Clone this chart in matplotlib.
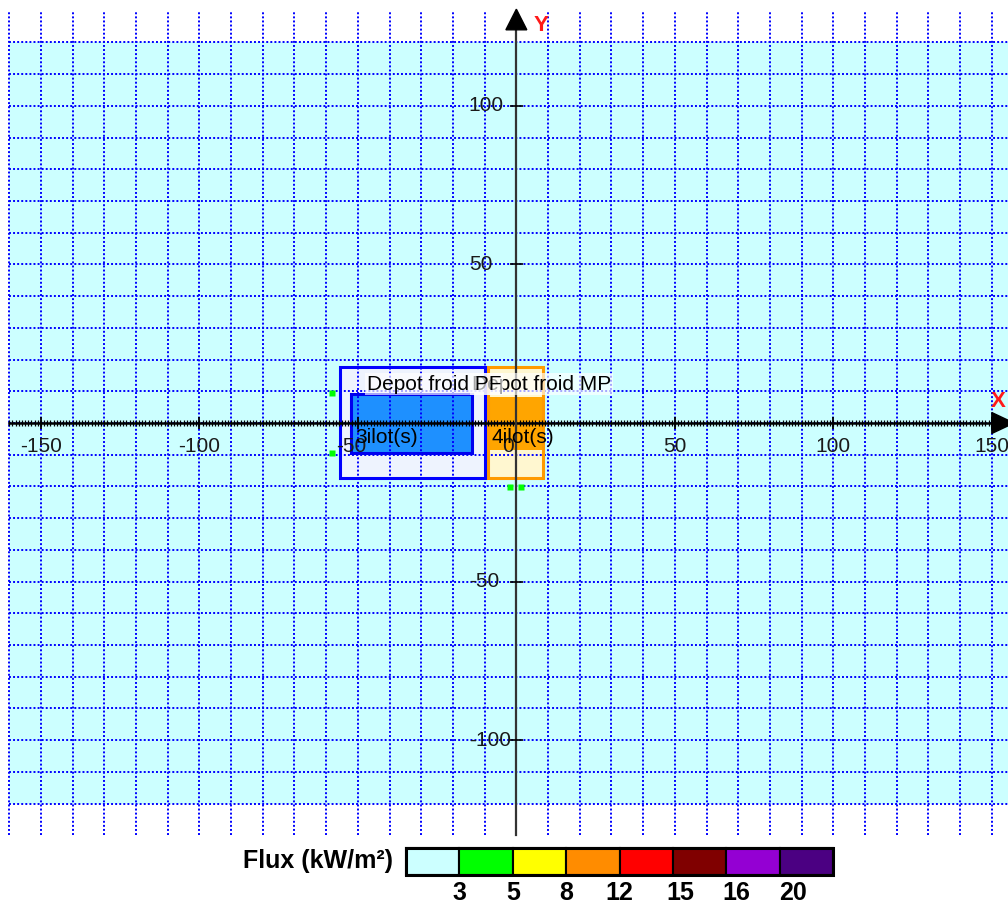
import numpy as np
import matplotlib.pyplot as plt
from matplotlib.patches import Rectangle, Polygon

plt.rcParams['font.family'] = ['Liberation Sans', 'DejaVu Sans']

# zones (x0, x1, y0, y1) in metres
zone_names = ['Depot froid MP', 'Depot froid PF']
zone_outer = [(-9.0, 8.4, -17.2, 17.7), (-55.5, -9.9, -17.2, 17.7)]
zone_inner = [(-9.0, 8.4, -8.6, 8.3), (-52.3, -14.0, -9.6, 9.3)]
zone_ilots = [4, 3]
zone_label_xy = [(-14.0, 12.3), (-47.1, 12.3)]
ilot_label_xy = [(-7.7, -4.5), (-50.9, -4.5)]

# small green points
pts_x = [-58.3, -58.2, -2.0, 1.45]
pts_y = [9.6, -9.5, -20.1, -20.1]

# axis tick labels
xtick_vals = [-150, -100, -50, 0, 50, 100, 150]
ytick_vals = [100, 50, -50, -100]

# flux legend
flux_colors = ['#CCFFFF', '#00FF00', '#FFFF00', '#FF8C00', '#FF0000',
               '#800000', '#9400D3', '#4B0082']
flux_thresholds = [3, 5, 8, 12, 15, 16, 20]

W, H = 1008, 905
fig = plt.figure(figsize=(W / 100, H / 100), dpi=100)
ax = fig.add_axes([0, 0, 1, 1])
ax.set_xlim(-162.9, 155.1)
ax.set_ylim(-152.0, 133.4)
ax.axis('off')

# background + grid
ax.add_patch(Rectangle((-160, -120), 330, 240, color='#CCFFFF', lw=0, zorder=0))
grid_kw = dict(color='#0000FF', lw=1.4, ls=(0, (1, 1.1)), zorder=2)
for gx in np.arange(-160, 160, 10):
    ax.plot([gx, gx], [-130, 130], **grid_kw)
for gy in np.arange(-120, 121, 10):
    ax.plot([-160, 170], [gy, gy], **grid_kw)

# zones
outer_fc = ['#FFF7D0', '#EEF3FE']
outer_ec = ['#FF9A00', '#0000FF']
inner_fc = ['#FFA500', '#1E90FF']
inner_ec = ['none', '#0000EE']
for i in range(len(zone_names)):
    x0, x1, y0, y1 = zone_outer[i]
    ax.add_patch(Rectangle((x0, y0), x1 - x0, y1 - y0, fc=outer_fc[i], ec='none', zorder=1))
    ax.add_patch(Rectangle((x0, y0), x1 - x0, y1 - y0, fill=False, ec=outer_ec[i], lw=2.2, zorder=3))
    x0, x1, y0, y1 = zone_inner[i]
    ax.add_patch(Rectangle((x0, y0), x1 - x0, y1 - y0, fc=inner_fc[i], ec='none', zorder=1.5))
    if inner_ec[i] != 'none':
        ax.add_patch(Rectangle((x0, y0), x1 - x0, y1 - y0, fill=False, ec=inner_ec[i], lw=2.2, zorder=3))

# axes
ax.plot([-160, 151], [0, 0], color='black', lw=1.8, zorder=4)
ax.vlines(np.arange(-160, 151, 1), -1.1, 1.1, color='black', lw=0.9, zorder=4)
ax.vlines(np.arange(-150, 151, 50), -2.0, 2.0, color='black', lw=1.3, zorder=4)
ax.plot([0, 0], [-130, 124], color='#333333', lw=1.6, zorder=4)
ax.hlines(ytick_vals, -2.0, 2.0, color='black', lw=1.2, zorder=4)
ax.add_patch(Polygon([[150, -3.3], [157, 0], [150, 3.3]], closed=True, color='black', zorder=5))
ax.add_patch(Polygon([[-3.3, 124], [0, 130.5], [3.3, 124]], closed=True, color='black', zorder=5))
ax.text(7.8, 125.5, 'Y', color='#FF1A1A', fontsize=16, fontweight='bold', ha='center', va='center', zorder=6)
ax.text(151.9, 6.9, 'X', color='#FF1A1A', fontsize=16, fontweight='bold', ha='center', va='center', zorder=6)

x_shift = {-50: -2.0, 0: -2.5}
for v in xtick_vals:
    ax.text(v + x_shift.get(v, 0), -7.4, '%d' % v, fontsize=15, color='#1a1a1a',
            ha='center', va='center', zorder=6)
for v in ytick_vals:
    ax.text(-15, v, '%d' % v, fontsize=15, color='#1a1a1a', ha='left', va='center', zorder=6)

# labels
for i in range(len(zone_names)):
    lx, ly = zone_label_xy[i]
    ax.text(lx, ly, zone_names[i], fontsize=15, ha='left', va='center', zorder=7 + i,
            bbox=dict(boxstyle='square,pad=0.08', fc='white', ec='none', alpha=0.65))
    ix, iy = ilot_label_xy[i]
    ax.text(ix, iy, '%dilot(s)' % zone_ilots[i], fontsize=15, ha='left', va='center', zorder=6)

ax.plot(pts_x, pts_y, 's', color='#00FF00', ms=4.5, mec='none', zorder=6)

# flux legend
cax = fig.add_axes([406 / W, (H - 875) / H, (833.3 - 406) / W, (875 - 847.7) / H])
cax.set_xlim(0, len(flux_colors))
cax.set_ylim(0, 1)
cax.axis('off')
for i, c in enumerate(flux_colors):
    cax.add_patch(Rectangle((i, 0), 1, 1, fc=c, ec='black', lw=1.5, clip_on=False))
cax.add_patch(Rectangle((0, 0), len(flux_colors), 1, fill=False, ec='black', lw=2.2, clip_on=False))
label_pos = [1, 2, 3, 4, 5.14, 6.19, 7.25]
for p, t in zip(label_pos, flux_thresholds):
    cax.text(p, -0.66, str(t), fontsize=18, fontweight='bold', ha='center', va='center')
fig.text(393 / W, (H - 861) / H, 'Flux (kW/m²)', fontsize=18, fontweight='bold',
         ha='right', va='center')

fig.savefig('out.png', dpi=100)
